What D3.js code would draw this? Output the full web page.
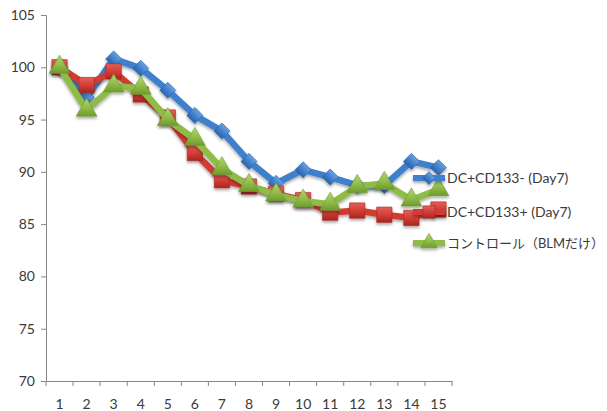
<!DOCTYPE html>
<html>
<head>
<meta charset="utf-8">
<script src="https://cdn.jsdelivr.net/npm/d3@7"></script>
<style>
  html, body { margin: 0; padding: 0; background: #fff; }
  svg { display: block; }
  text { font-family: Lato, "Open Sans", "Noto Sans CJK JP", sans-serif; fill: #3a3a3a; }
</style>
</head>
<body>
<svg id="chart" width="607" height="411"></svg>
<script>
// Days on the x axis
const days = [1, 2, 3, 4, 5, 6, 7, 8, 9, 10, 11, 12, 13, 14, 15];
// Series values (%)
const cd133Minus = [100, 97.1, 100.8, 99.9, 97.8, 95.4, 93.9, 91.0, 88.9, 90.2, 89.5, 88.7, 88.7, 91.0, 90.4];
const cd133Plus  = [100, 98.3, 99.6, 97.4, 95.2, 91.8, 89.2, 88.6, 87.9, 87.3, 86.1, 86.3, 85.9, 85.6, 86.4];
const control    = [100, 95.9, 98.2, 98.0, 95.0, 93.1, 90.3, 88.7, 87.8, 87.2, 86.9, 88.6, 88.9, 87.3, 88.3];
// Axis ticks
const yTicks = [70, 75, 80, 85, 90, 95, 100, 105];
// Legend labels
const seriesNames = ["DC+CD133- (Day7)", "DC+CD133+ (Day7)", "コントロール（BLMだけ）"];

const svg = d3.select("#chart");
const defs = svg.append("defs");

// soft drop shadow under lines and markers
const shadow = defs.append("filter").attr("id", "shadow")
  .attr("x", "-20%").attr("y", "-20%").attr("width", "140%").attr("height", "160%");
shadow.append("feDropShadow")
  .attr("dx", 0).attr("dy", 2).attr("stdDeviation", 1.6)
  .attr("flood-color", "#000").attr("flood-opacity", 0.35);

const styles = [
  { line: "#3f7fcc", light: "#6aa0e0", dark: "#2d64a8", shape: "diamond" },
  { line: "#d23b33", light: "#e2605a", dark: "#a5271f", shape: "square" },
  { line: "#8fbc47", light: "#b2d672", dark: "#6f9a30", shape: "triangle" }
];
styles.forEach((s, i) => {
  const g = defs.append("linearGradient").attr("id", "grad" + i)
    .attr("x1", 0).attr("y1", 0).attr("x2", 0).attr("y2", 1);
  g.append("stop").attr("offset", "0%").attr("stop-color", s.light);
  g.append("stop").attr("offset", "55%").attr("stop-color", s.line);
  g.append("stop").attr("offset", "100%").attr("stop-color", s.dark);
});

const x = d3.scaleBand().domain(days).range([46, 452]);
const y = d3.scaleLinear().domain([70, 105]).range([381, 15]);
const cx = d => x(d) + x.bandwidth() / 2;

// y axis
const yAxis = svg.append("g").attr("transform", "translate(46,0)")
  .call(d3.axisLeft(y).tickValues(yTicks).tickSize(5).tickPadding(6));
// x axis with ticks at band edges
const xAxis = svg.append("g").attr("transform", "translate(0,381)")
  .call(d3.axisBottom(x).tickSize(0).tickPadding(18));
xAxis.selectAll(".tick line").remove();
xAxis.selectAll(".edge").data(d3.range(days.length + 1)).enter().append("line")
  .attr("x1", i => 46 + i * x.step()).attr("x2", i => 46 + i * x.step())
  .attr("y1", 0).attr("y2", 5).attr("stroke", "#868686");

[yAxis, xAxis].forEach(a => {
  a.select(".domain").attr("stroke", "#868686");
  a.selectAll(".tick line").attr("stroke", "#868686");
  a.selectAll("text").style("font-size", "14px").style("fill", "#3a3a3a")
    .style("font-family", "Lato, 'Open Sans', sans-serif");
});

const symbolFor = (shape, size) => {
  if (shape === "diamond") return d3.symbol().type(d3.symbolSquare).size(size * 0.55)();
  if (shape === "square") return d3.symbol().type(d3.symbolSquare).size(size)();
  return d3.symbol().type(d3.symbolTriangle).size(size * 0.8)();
};

const allSeries = [cd133Minus, cd133Plus, control];
const line = d3.line().x((d, i) => cx(days[i])).y(d => y(d));

allSeries.forEach((vals, si) => {
  const s = styles[si];
  const g = svg.append("g").attr("filter", "url(#shadow)");
  g.append("path").datum(vals).attr("d", line)
    .attr("fill", "none").attr("stroke", s.line).attr("stroke-width", 6.5)
    .attr("stroke-linejoin", "round");
  g.selectAll("path.m").data(vals).enter().append("path").attr("class", "m")
    .attr("d", symbolFor(s.shape, 235))
    .attr("transform", (d, i) => `translate(${cx(days[i])},${y(d)})` + (s.shape === "diamond" ? " rotate(45)" : ""))
    .attr("fill", `url(#grad${si})`).attr("stroke", s.dark).attr("stroke-width", 0.6);
});

// legend
const legendY = [178, 212, 243];
const legend = svg.append("g");
seriesNames.forEach((name, i) => {
  const s = styles[i];
  const g = legend.append("g").attr("transform", `translate(0,${legendY[i]})`);
  const lg = g.append("g").attr("filter", "url(#shadow)");
  lg.append("line").attr("x1", 413).attr("x2", 445).attr("y1", 0).attr("y2", 0)
    .attr("stroke", s.line).attr("stroke-width", 6);
  lg.append("path").attr("d", symbolFor(s.shape, 150))
    .attr("transform", `translate(429,0)` + (s.shape === "diamond" ? " rotate(45)" : ""))
    .attr("fill", `url(#grad${i})`).attr("stroke", s.dark).attr("stroke-width", 0.6);
  const t = g.append("text").attr("x", 447).attr("y", 0).attr("dy", "0.36em")
    .style("font-size", "14px").text(name);
  // keep the label inside the right edge
  const maxW = 607 - 447 - 3;
  const w = t.node().getComputedTextLength();
  if (w > maxW) t.style("font-size", (14 * maxW / w).toFixed(2) + "px");
});
</script>
</body>
</html>
